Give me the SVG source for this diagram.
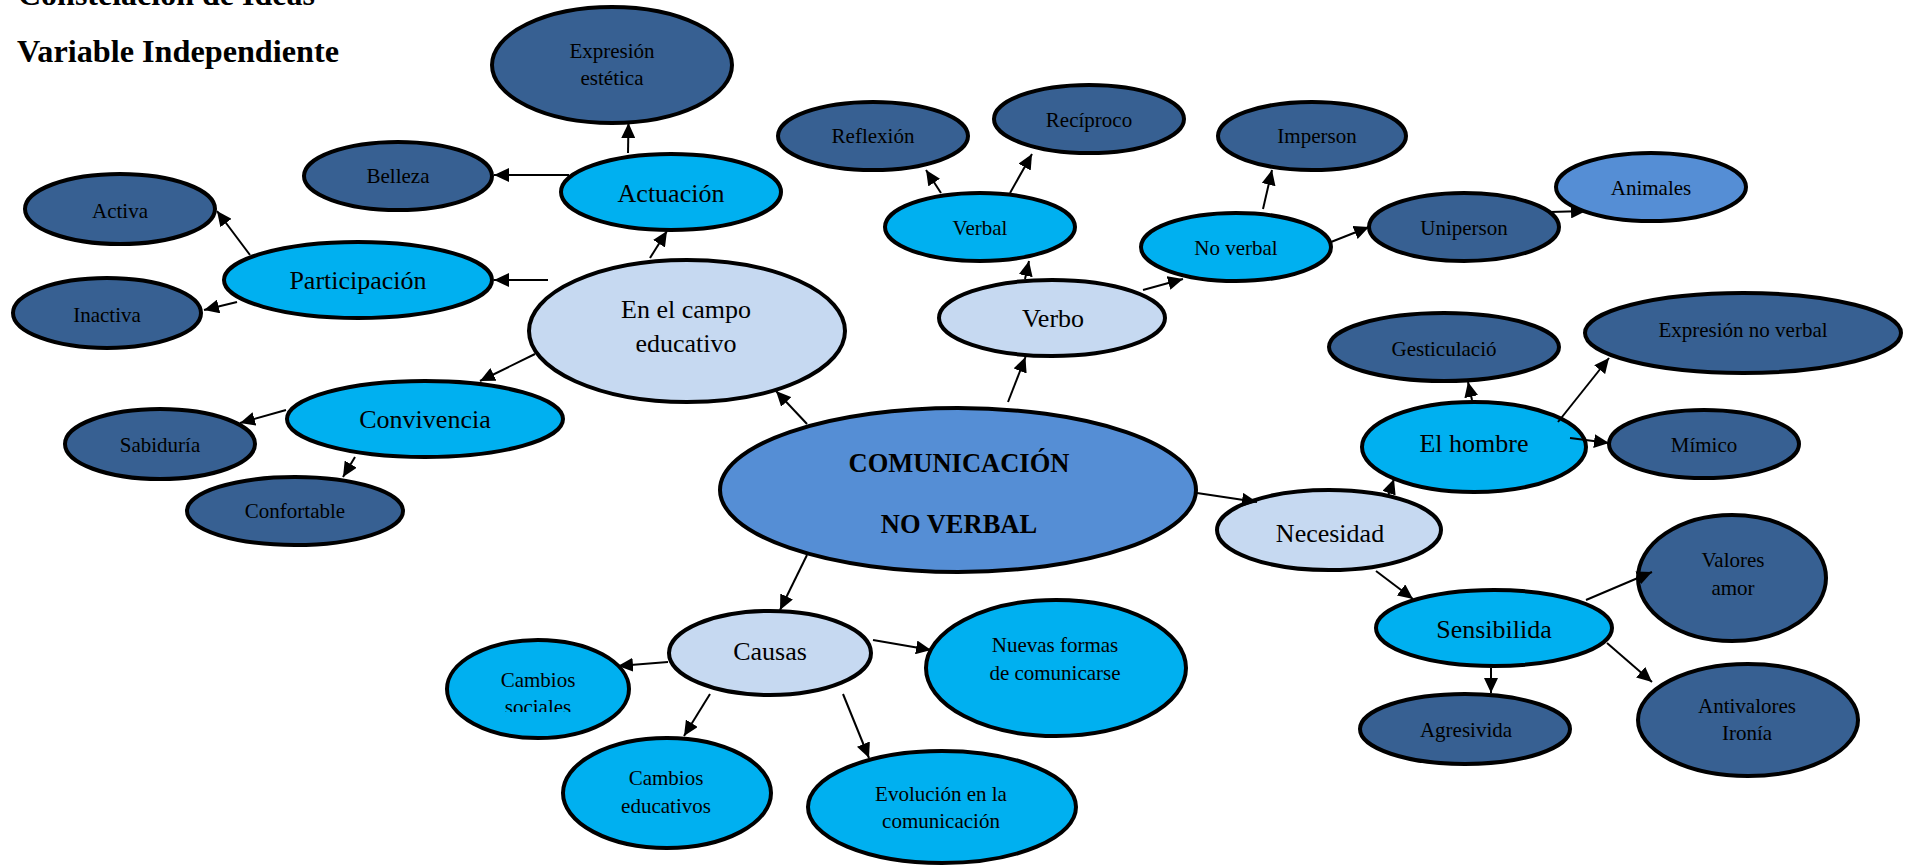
<svg xmlns="http://www.w3.org/2000/svg" width="1914" height="866" viewBox="0 0 1914 866">
<style>
.n{stroke:#000;stroke-width:4}
.d{fill:#376092}
.c{fill:#00B0F0}
.l{fill:#C6D9F1}
.m{fill:#558ED5}
text{font-family:"Liberation Serif","Times New Roman",serif;fill:#000;text-anchor:middle}
.s{font-size:21px}
.b{font-size:26px}
.t{font-size:32px;font-weight:bold;text-anchor:start}
.k{font-size:26.5px;font-weight:bold}
.e{stroke:#000;stroke-width:2;fill:none;marker-end:url(#ah)}
</style>
<defs>
<marker id="ah" markerUnits="userSpaceOnUse" markerWidth="15" markerHeight="14" refX="15" refY="7" orient="auto">
<path d="M0,0 L15,7 L0,14 z" fill="#000"/>
</marker>
<clipPath id="cs"><rect x="440" y="630" width="200" height="82"/></clipPath>
</defs>
<rect width="1914" height="866" fill="#fff"/>
<g id="titles">
<text class="t" x="18" y="5">Constelación de Ideas</text>
<text class="t" x="17" y="62" textLength="322" lengthAdjust="spacingAndGlyphs">Variable Independiente</text>
</g>
<g id="expresion-estetica"><ellipse class="n d" cx="612" cy="65" rx="120" ry="58"/><text class="s" x="612" y="58">Expresión</text><text class="s" x="612" y="85">estética</text></g>
<g id="belleza"><ellipse class="n d" cx="398" cy="176" rx="94" ry="34"/><text class="s" x="398" y="183">Belleza</text></g>
<g id="actuacion"><ellipse class="n c" cx="671" cy="192" rx="110" ry="38"/><text class="b" x="671" y="202">Actuación</text></g>
<g id="activa"><ellipse class="n d" cx="120" cy="209" rx="95" ry="35"/><text class="s" x="120" y="218">Activa</text></g>
<g id="participacion"><ellipse class="n c" cx="358" cy="280" rx="134" ry="38"/><text class="b" x="358" y="289">Participación</text></g>
<g id="inactiva"><ellipse class="n d" cx="107" cy="313" rx="94" ry="35"/><text class="s" x="107" y="322">Inactiva</text></g>
<g id="campo-educativo"><ellipse class="n l" cx="687" cy="331" rx="158" ry="71"/><text class="b" x="686" y="318">En el campo</text><text class="b" x="686" y="352">educativo</text></g>
<g id="convivencia"><ellipse class="n c" cx="425" cy="419" rx="138" ry="38"/><text class="b" x="425" y="428">Convivencia</text></g>
<g id="sabiduria"><ellipse class="n d" cx="160" cy="444" rx="95" ry="35"/><text class="s" x="160" y="452">Sabiduría</text></g>
<g id="confortable"><ellipse class="n d" cx="295" cy="511" rx="108" ry="34"/><text class="s" x="295" y="518">Confortable</text></g>
<g id="comunicacion"><ellipse class="n m" cx="958" cy="490" rx="238" ry="82"/><text class="k" x="959" y="472">COMUNICACIÓN</text><text class="k" x="959" y="533">NO VERBAL</text></g>
<g id="reflexion"><ellipse class="n d" cx="873" cy="136" rx="95" ry="34"/><text class="s" x="873" y="143">Reflexión</text></g>
<g id="reciproco"><ellipse class="n d" cx="1089" cy="119" rx="95" ry="34"/><text class="s" x="1089" y="127">Recíproco</text></g>
<g id="imperson"><ellipse class="n d" cx="1312" cy="136" rx="94" ry="34"/><text class="s" x="1317" y="143">Imperson</text></g>
<g id="verbal"><ellipse class="n c" cx="980" cy="227" rx="95" ry="34"/><text class="s" x="980" y="235">Verbal</text></g>
<g id="no-verbal"><ellipse class="n c" cx="1236" cy="247" rx="95" ry="34"/><text class="s" x="1236" y="255">No verbal</text></g>
<g id="verbo"><ellipse class="n l" cx="1052" cy="318" rx="113" ry="38"/><text class="b" x="1053" y="327">Verbo</text></g>
<g id="uniperson"><ellipse class="n d" cx="1464" cy="227" rx="95" ry="34"/><text class="s" x="1464" y="235">Uniperson</text></g>
<g id="animales"><ellipse class="n m" cx="1651" cy="187" rx="95" ry="34"/><text class="s" x="1651" y="195">Animales</text></g>
<g id="gesticulacion"><ellipse class="n d" cx="1444" cy="347" rx="115" ry="34"/><text class="s" x="1444" y="356">Gesticulació</text></g>
<g id="expresion-no-verbal"><ellipse class="n d" cx="1743" cy="333" rx="158" ry="40"/><text class="s" x="1743" y="337">Expresión no verbal</text></g>
<g id="el-hombre"><ellipse class="n c" cx="1474" cy="447" rx="112" ry="45"/><text class="b" x="1474" y="452">El hombre</text></g>
<g id="mimico"><ellipse class="n d" cx="1704" cy="444" rx="95" ry="34"/><text class="s" x="1704" y="452">Mímico</text></g>
<g id="necesidad"><ellipse class="n l" cx="1329" cy="530" rx="112" ry="40"/><text class="b" x="1330" y="542">Necesidad</text></g>
<g id="sensibilidad"><ellipse class="n c" cx="1494" cy="628" rx="118" ry="38"/><text class="b" x="1494" y="638">Sensibilida</text></g>
<g id="valores"><ellipse class="n d" cx="1732" cy="578" rx="94" ry="63"/><text class="s" x="1733" y="567">Valores</text><text class="s" x="1733" y="595">amor</text></g>
<g id="agresividad"><ellipse class="n d" cx="1465" cy="729" rx="105" ry="35"/><text class="s" x="1466" y="737">Agresivida</text></g>
<g id="antivalores"><ellipse class="n d" cx="1748" cy="720" rx="110" ry="56"/><text class="s" x="1747" y="713">Antivalores</text><text class="s" x="1747" y="740">Ironía</text></g>
<g id="causas"><ellipse class="n l" cx="770" cy="653" rx="101" ry="42"/><text class="b" x="770" y="660">Causas</text></g>
<g id="cambios-sociales"><ellipse class="n c" cx="538" cy="689" rx="91" ry="49"/><g clip-path="url(#cs)"><text class="s" x="538" y="687">Cambios</text><text class="s" x="538" y="714">sociales</text></g></g>
<g id="nuevas-formas"><ellipse class="n c" cx="1056" cy="668" rx="130" ry="68"/><text class="s" x="1055" y="652">Nuevas formas</text><text class="s" x="1055" y="680">de comunicarse</text></g>
<g id="cambios-educativos"><ellipse class="n c" cx="667" cy="793" rx="104" ry="55"/><text class="s" x="666" y="785">Cambios</text><text class="s" x="666" y="813">educativos</text></g>
<g id="evolucion"><ellipse class="n c" cx="942" cy="807" rx="134" ry="56"/><text class="s" x="941" y="801">Evolución en la</text><text class="s" x="941" y="828">comunicación</text></g>
<g id="connectors">
<line class="e" x1="628" y1="153" x2="628.5" y2="123"/>
<line class="e" x1="569" y1="175" x2="494" y2="175"/>
<line class="e" x1="250" y1="255" x2="217" y2="211"/>
<line class="e" x1="650" y1="258" x2="667" y2="231"/>
<line class="e" x1="548" y1="280" x2="494" y2="280"/>
<line class="e" x1="237" y1="302" x2="204" y2="310"/>
<line class="e" x1="535" y1="354" x2="480" y2="381"/>
<line class="e" x1="286" y1="410" x2="240" y2="423"/>
<line class="e" x1="355" y1="457" x2="343" y2="477"/>
<line class="e" x1="807" y1="424" x2="776" y2="391"/>
<line class="e" x1="941" y1="193" x2="926" y2="170"/>
<line class="e" x1="1010" y1="193" x2="1032" y2="154"/>
<line class="e" x1="1025" y1="279" x2="1029" y2="261"/>
<line class="e" x1="1143" y1="290" x2="1183" y2="279"/>
<line class="e" x1="1263" y1="209" x2="1272" y2="170"/>
<line class="e" x1="1008" y1="402" x2="1025.5" y2="357"/>
<line class="e" x1="1331" y1="242" x2="1369" y2="227"/>
<line class="e" x1="1550" y1="212" x2="1586" y2="211"/>
<line class="e" x1="1472" y1="400" x2="1468" y2="382"/>
<line class="e" x1="1558" y1="422" x2="1609" y2="358"/>
<line class="e" x1="1570" y1="438" x2="1609" y2="443"/>
<line class="e" x1="1388" y1="496" x2="1394" y2="479"/>
<line class="e" x1="1197" y1="493" x2="1257" y2="502"/>
<line class="e" x1="807" y1="555" x2="780" y2="610"/>
<line class="e" x1="1376" y1="571" x2="1413" y2="599"/>
<line class="e" x1="1586" y1="600" x2="1652" y2="572"/>
<line class="e" x1="1491" y1="668" x2="1491" y2="693"/>
<line class="e" x1="1607" y1="643" x2="1652" y2="682"/>
<line class="e" x1="668" y1="662" x2="618" y2="666"/>
<line class="e" x1="710" y1="694" x2="684" y2="736"/>
<line class="e" x1="843" y1="694" x2="869" y2="758"/>
<line class="e" x1="873" y1="640" x2="931" y2="650"/>
</g>
</svg>
